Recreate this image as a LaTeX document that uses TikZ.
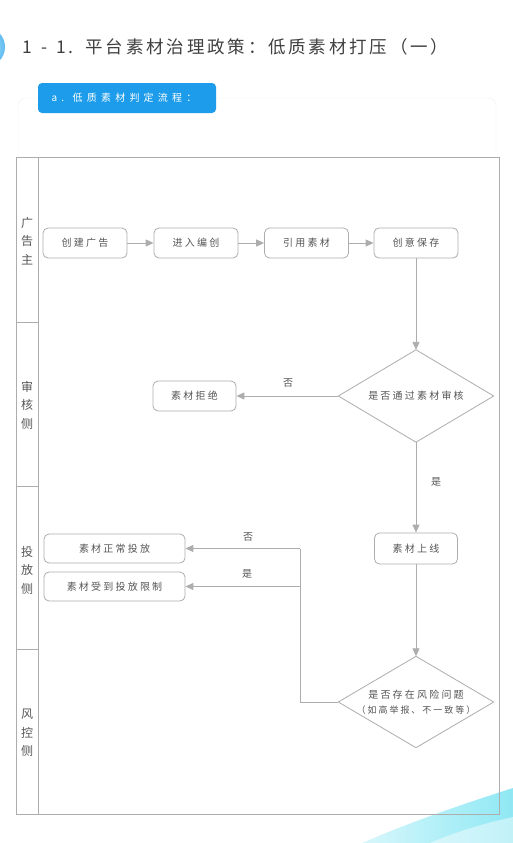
\documentclass[tikz,border=0pt]{standalone}
\usepackage{fontspec}
\setmainfont{Noto Sans CJK SC}
\usetikzlibrary{arrows.meta}
\definecolor{ln}{HTML}{ADADAD}
\definecolor{tx}{HTML}{555555}
\definecolor{ttl}{HTML}{404040}
\definecolor{blu}{HTML}{1C9CEA}
\definecolor{cyn}{HTML}{8FE8F4}
\begin{document}
\begin{tikzpicture}[x=1pt,y=-1pt,
  box/.style={draw=ln, line width=0.8pt, rounded corners=5pt, text=tx,
    font=\fontsize{10}{12}\selectfont\addfontfeature{LetterSpace=22},
    inner sep=0pt},
  dec/.style={inner sep=0pt, text=tx,
    minimum width=155pt, minimum height=92pt, align=center,
    font=\fontsize{10}{15}\selectfont\addfontfeature{LetterSpace=22}},
  rhomb/.style={draw=ln, line width=0.8pt},
  wire/.style={draw=ln, line width=0.9pt},
  conn/.style={wire, -{Triangle[length=8pt,width=7pt]}},
  lane/.style={text=tx, align=center, font=\fontsize{12}{18.5}\selectfont},
  lbl/.style={text=tx, font=\fontsize{10}{12}\selectfont}]
\useasboundingbox (0,0) rectangle (513,843);
\fill[white] (0,0) rectangle (513,843);
% decorations
\shade[inner color=cyn!60, outer color=blu!70] (-15,47) circle (20);
% title
\node[anchor=west, text=ttl, font=\fontsize{17.5}{20}\selectfont\addfontfeature{LetterSpace=16}] (title) at (19,47) {1\hspace{9pt}-\hspace{9pt}1.\hspace{12pt}平台素材治理政策：低质素材打压（一）};
% card
\draw[black!6, fill=white, rounded corners=8pt] (18,98) rectangle (496,170);
\node[fill=blu, rounded corners=4pt, minimum width=178pt, minimum height=30pt, inner sep=0pt] (tag) at (127,98) {};
\node[anchor=west, text=white, font=\fontsize{10}{12}\selectfont\addfontfeature{LetterSpace=42}] (tagtext) at (48,98) {a. 低质素材判定流程：};
% swimlane frame
\fill[white] (16,157) rectangle (499,814);
\shade[left color=cyn!35, right color=cyn] (362,843) .. controls (420,818) and (470,802) .. (513,788) -- (513,843) -- cycle;
\fill[white, opacity=0.45] (430,843) .. controls (460,830) and (490,822) .. (513,817) -- (513,843) -- cycle;
\draw[ln, line width=0.8pt] (16,157) rectangle (499,814);
\draw[ln, line width=0.8pt] (38,157) -- (38,814);
\draw[ln, line width=0.8pt] (16,322) -- (38,322);
\draw[ln, line width=0.8pt] (16,486) -- (38,486);
\draw[ln, line width=0.8pt] (16,649) -- (38,649);
\node[lane] (l1) at (27,241) {广\\告\\主};
\node[lane] (l2) at (27,405) {审\\核\\侧};
\node[lane] (l3) at (27,570) {投\\放\\侧};
\node[lane] (l4) at (27,733) {风\\控\\侧};
% nodes
\node[box, minimum width=84pt, minimum height=30pt] (n1) at (85,243) {创建广告};
\node[box, minimum width=84pt, minimum height=30pt] (n2) at (196,243) {进入编创};
\node[box, minimum width=84pt, minimum height=30pt] (n3) at (306.5,243) {引用素材};
\node[box, minimum width=84pt, minimum height=30pt] (n4) at (416,243) {创意保存};
\node[dec] (d1) at (416,396) {是否通过素材审核};
\draw[rhomb] (d1.north) -- (d1.east) -- (d1.south) -- (d1.west) -- cycle;
\node[box, minimum width=83pt, minimum height=30pt] (n5) at (194.5,396) {素材拒绝};
\node[box, minimum width=83pt, minimum height=31pt] (n6) at (416,548.5) {素材上线};
\node[dec, minimum height=91pt] (d2) at (416,702) {是否存在风险问题\\{\fontsize{9}{12}\selectfont（如高举报、不一致等）}};
\draw[rhomb] (d2.north) -- (d2.east) -- (d2.south) -- (d2.west) -- cycle;
\node[box, minimum width=141pt, minimum height=29pt] (n7) at (114.5,548.5) {素材正常投放};
\node[box, minimum width=141pt, minimum height=29pt] (n8) at (114.5,586.5) {素材受到投放限制};
\coordinate (j1) at (300,548.5);
\coordinate (j2) at (300,586.5);
% connectors
\draw[conn] (n1) -- (n2);
\draw[conn] (n2) -- (n3);
\draw[conn] (n3) -- (n4);
\draw[conn] (n4) -- (d1.north);
\draw[conn] (d1.west) -- (n5);
\draw[conn] (d1.south) -- (n6);
\draw[conn] (n6) -- (d2.north);
\draw[wire] (d2.west) -| (j1);
\draw[conn] (j1) -- (n7);
\draw[conn] (j2) -- (n8);
% labels
\node[lbl] (no1) at (288,383) {否};
\node[lbl] (yes1) at (436,482) {是};
\node[lbl] (no2) at (248,537) {否};
\node[lbl] (yes2) at (247,574) {是};
\end{tikzpicture}
\end{document}
